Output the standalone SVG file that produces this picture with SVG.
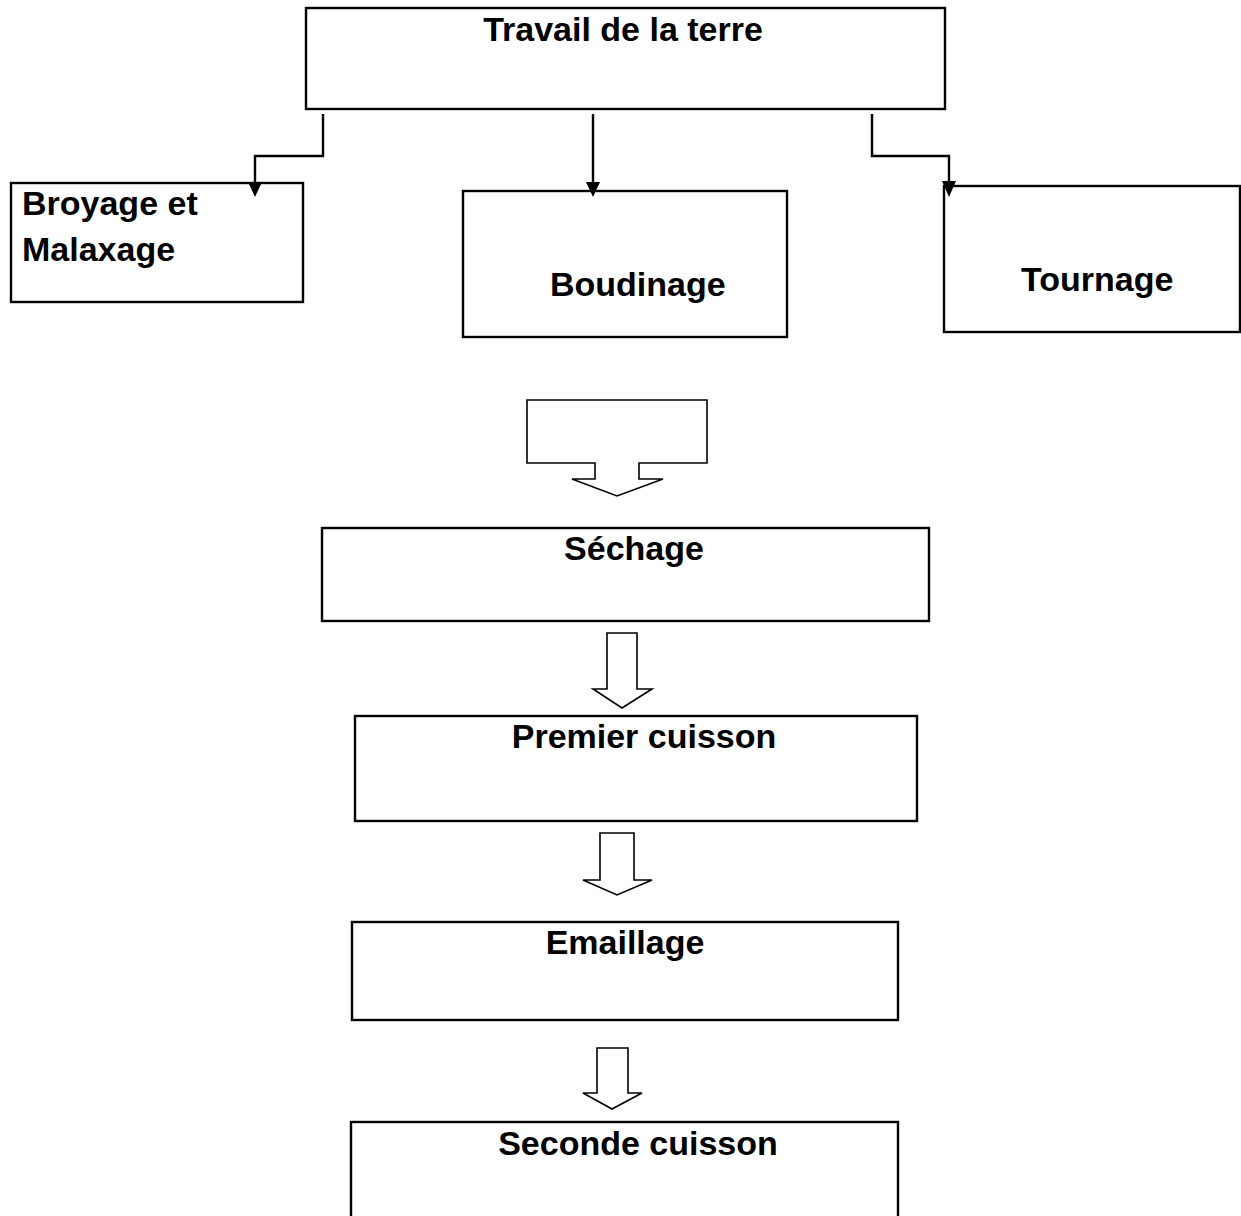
<svg xmlns="http://www.w3.org/2000/svg" width="1241" height="1216" viewBox="0 0 1241 1216">
<style>
.box{fill:#fff;stroke:#000;stroke-width:2.4}
.t{font-family:"Liberation Sans",Arial,sans-serif;font-weight:bold;font-size:34px;fill:#000}
.c{text-anchor:middle}
.line{fill:none;stroke:#000;stroke-width:2.4}
.head{fill:#000}
.blk{fill:#fff;stroke:#000;stroke-width:1.6;stroke-linejoin:miter}
</style>
<rect width="1241" height="1216" fill="#fff"/>
<g id="travail">
<rect class="box" x="306" y="8" width="639" height="101"/>
<text class="t c" x="623" y="41">Travail de la terre</text>
</g>
<g id="broyage">
<rect class="box" x="11" y="183" width="292" height="119"/>
<text class="t" x="22" y="215">Broyage et</text>
<text class="t" x="22" y="261">Malaxage</text>
</g>
<g id="boudinage">
<rect class="box" x="463" y="191" width="324" height="146"/>
<text class="t" x="550" y="296">Boudinage</text>
</g>
<g id="tournage">
<rect class="box" x="944" y="186" width="296" height="146"/>
<text class="t" x="1021" y="291">Tournage</text>
</g>
<g id="sechage">
<rect class="box" x="322" y="528" width="607" height="93"/>
<text class="t c" x="634" y="560">Séchage</text>
</g>
<g id="premier">
<rect class="box" x="355" y="716" width="562" height="105"/>
<text class="t c" x="644" y="748">Premier cuisson</text>
</g>
<g id="emaillage">
<rect class="box" x="352" y="922" width="546" height="98"/>
<text class="t c" x="625" y="954">Emaillage</text>
</g>
<g id="seconde">
<rect class="box" x="351" y="1122" width="547" height="110"/>
<text class="t c" x="638" y="1155">Seconde cuisson</text>
</g>
<g id="connectors">
<path class="line" d="M323,114 V156 H255 V183"/>
<path class="head" d="M248,182 L262,182 L255,197 Z"/>
<path class="line" d="M593,114 V183"/>
<path class="head" d="M586,182 L600,182 L593,197 Z"/>
<path class="line" d="M872,114 V156 H949 V182"/>
<path class="head" d="M942,181 L956,181 L949,197 Z"/>
<path class="blk" d="M527,400 H707 V463 H639 V479 H663 L617,496 L572,479 H595 V463 H527 Z"/>
<path class="blk" d="M607,633 H637 V689 H652 L622,708 L593,689 H607 Z"/>
<path class="blk" d="M600,833 H634 V880 H652 L617,895 L583,880 H600 Z"/>
<path class="blk" d="M597,1048 H628 V1093 H642 L612,1109 L583,1093 H597 Z"/>
</g>
</svg>
